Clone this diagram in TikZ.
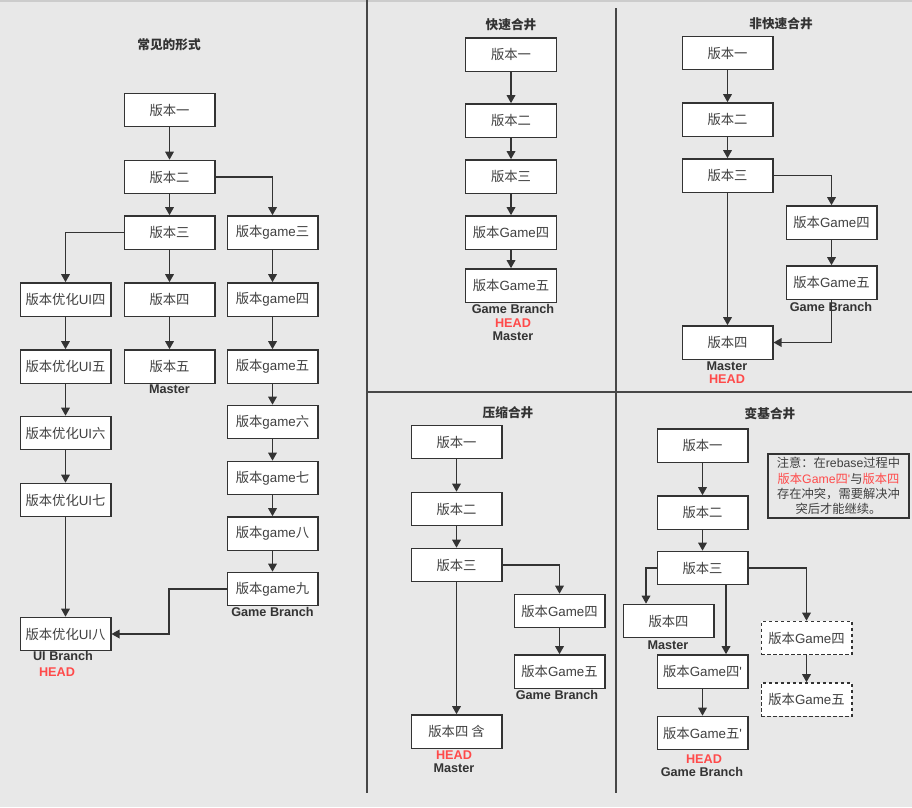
\documentclass[tikz,border=0pt]{standalone}
\usepackage{fontspec}
\setmainfont{Noto Sans CJK SC}
\newfontfamily\lat{Liberation Sans}
\usetikzlibrary{arrows.meta,calc}
\definecolor{bg}{HTML}{E8E8E8}
\definecolor{ln}{HTML}{333333}
\definecolor{tx}{HTML}{404040}
\definecolor{hd}{HTML}{FF4A4A}
\begin{document}
\begin{tikzpicture}[x=0.75pt,y=-0.75pt,
  box/.style={draw=ln, line width=1pt, fill=white, minimum width=68pt, minimum height=25pt, inner sep=0pt, font=\fontsize{10}{12}\selectfont, text=tx},
  dbox/.style={box, dash pattern=on 2.5pt off 2pt},
  arr/.style={draw=ln, line width=0.9pt, -{Triangle[width=6.5pt,length=6pt]}},
  lbl/.style={font=\lat\bfseries\fontsize{9.5}{10}\selectfont, text=ln, inner sep=0pt},
  head/.style={lbl, text=hd},
  ttl/.style={font=\bfseries\fontsize{9.5}{11}\selectfont, text=ln, inner sep=0pt},
  divider/.style={draw=ln!90, line width=1.2pt}]
\fill[bg] (0,0) rectangle (912,807);
\useasboundingbox (0,0) rectangle (912,807);
\draw[black!20, line width=0.8pt] (0,1) -- (912,1);
% dividers
\draw[divider] (367,0) -- (367,793);
\draw[divider] (616,8) -- (616,793);
\draw[divider] (367,392) -- (912,392);

% ---------------- left panel
\node[ttl] (t1) at (169,45) {常见的形式};
\node[box] (L1) at (169.5,110) {版本一};
\node[box] (L2) at (169.5,177) {版本二};
\node[box] (L3) at (169.5,232.5) {版本三};
\node[box] (Lg3) at (272.5,232.5) {版本{\lat game}三};
\node[box] (Lu4) at (65.5,299.5) {版本优化{\lat UI}四};
\node[box] (L4) at (169.5,299.5) {版本四};
\node[box] (Lg4) at (272.5,299.5) {版本{\lat game}四};
\node[box] (Lu5) at (65.5,366.5) {版本优化{\lat UI}五};
\node[box] (L5) at (169.5,366.5) {版本五};
\node[box] (Lg5) at (272.5,366.5) {版本{\lat game}五};
\node[box] (Lg6) at (272.5,422) {版本{\lat game}六};
\node[box] (Lu6) at (65.5,433) {版本优化{\lat UI}六};
\node[box] (Lg7) at (272.5,478) {版本{\lat game}七};
\node[box] (Lu7) at (65.5,500) {版本优化{\lat UI}七};
\node[box] (Lg8) at (272.5,533.5) {版本{\lat game}八};
\node[box] (Lg9) at (272.5,589) {版本{\lat game}九};
\node[box] (Lu8) at (65.5,634) {版本优化{\lat UI}八};
\node[lbl] (lm1) at (169.5,389) {Master};
\node[lbl] (lgb1) at (272.5,612) {Game Branch};
\node[lbl] (lub) at (63,656) {UI Branch};
\node[head] (lh1) at (57,672) {HEAD};
\coordinate (k1) at (169,0);
\draw[arr] (L1) -- (L2);
\draw[arr] (L2) -- (L3);
\draw[arr] (L3) -- (L4);
\draw[arr] (L4) -- (L5);
\draw[arr] (L2.east) -| (Lg3.north);
\draw[arr] (L3.west) -| (Lu4.north);
\draw[arr] (Lu4) -- (Lu5);
\draw[arr] (Lu5) -- (Lu6);
\draw[arr] (Lu6) -- (Lu7);
\draw[arr] (Lu7) -- (Lu8);
\draw[arr] (Lg3) -- (Lg4);
\draw[arr] (Lg4) -- (Lg5);
\draw[arr] (Lg5) -- (Lg6);
\draw[arr] (Lg6) -- (Lg7);
\draw[arr] (Lg7) -- (Lg8);
\draw[arr] (Lg8) -- (Lg9);
\draw[arr] (Lg9.west) -- (Lg9.west -| k1) |- (Lu8.east);

% ---------------- fast-forward
\node[ttl] (t2) at (511,25) {快速合井};
\node[box] (A1) at (511,54.5) {版本一};
\node[box] (A2) at (511,120.5) {版本二};
\node[box] (A3) at (511,176.5) {版本三};
\node[box] (A4) at (511,232.5) {版本{\lat Game}四};
\node[box] (A5) at (511,285.5) {版本{\lat Game}五};
\node[lbl] (agb) at (513,309) {Game Branch};
\node[head] (ah) at (513,323) {HEAD};
\node[lbl] (am) at (513,336) {Master};
\draw[arr] (A1) -- (A2);
\draw[arr] (A2) -- (A3);
\draw[arr] (A3) -- (A4);
\draw[arr] (A4) -- (A5);

% ---------------- non fast-forward
\node[ttl] (t3) at (781,24) {非快速合井};
\node[box] (B1) at (727.5,53) {版本一};
\node[box] (B2) at (727.5,119.5) {版本二};
\node[box] (B3) at (727.5,175.5) {版本三};
\node[box] (B4) at (831.5,222.5) {版本{\lat Game}四};
\node[box] (B5) at (831.5,282.5) {版本{\lat Game}五};
\node[box] (B6) at (727.5,342.5) {版本四};
\node[lbl] (bgb) at (831,307) {Game Branch};
\node[lbl] (bm) at (727,366) {Master};
\node[head] (bh) at (727,379) {HEAD};
\draw[arr] (B1) -- (B2);
\draw[arr] (B2) -- (B3);
\draw[arr] (B3) -- (B6);
\draw[arr] (B3.east) -| (B4.north);
\draw[arr] (B4) -- (B5);
\draw[arr] (B5.south) |- (B6.east);

% ---------------- squash
\node[ttl] (t4) at (508,413) {压缩合井};
\node[box] (C1) at (456.5,442) {版本一};
\node[box] (C2) at (456.5,509) {版本二};
\node[box] (C3) at (456.5,565) {版本三};
\node[box] (C4) at (559.5,611) {版本{\lat Game}四};
\node[box] (C5) at (559.5,671.5) {版本{\lat Game}五};
\node[box] (C6) at (456.5,731.5) {版本四 含};
\node[lbl] (cgb) at (557,695) {Game Branch};
\node[head] (ch) at (454,755) {HEAD};
\node[lbl] (cm) at (454,768) {Master};
\draw[arr] (C1) -- (C2);
\draw[arr] (C2) -- (C3);
\draw[arr] (C3) -- (C6);
\draw[arr] (C3.east) -| (C4.north);
\draw[arr] (C4) -- (C5);

% ---------------- rebase
\node[ttl] (t5) at (770,414) {变基合井};
\node[box] (D1) at (702.5,445.5) {版本一};
\node[box] (D2) at (702.5,512.5) {版本二};
\node[box] (D3) at (702.5,568) {版本三};
\node[box] (D4) at (668.5,621) {版本四};
\node[box] (D5) at (702.5,671.5) {版本{\lat Game}四{\lat '}};
\node[box] (D6) at (702.5,733) {版本{\lat Game}五{\lat '}};
\node[dbox] (E4) at (806.5,638) {版本{\lat Game}四};
\node[dbox] (E5) at (806.5,699.5) {版本{\lat Game}五};
\node[lbl] (dm) at (668,645) {Master};
\node[head] (dh) at (704,759) {HEAD};
\node[lbl] (dgb) at (702,772) {Game Branch};
\node[draw=ln, line width=1pt, fill=bg, minimum width=105.75pt, minimum height=48pt, inner sep=0pt,
      text width=104pt, align=center, font=\fontsize{9.2}{11.4}\selectfont, text=tx] (note) at (838.5,486)
  {注意：在{\lat rebase}过程中\\{\color{hd}版本{\lat Game}四{\lat '}}与{\color{hd}版本四}\\存在冲突，需要解决冲\\突后才能继续。};
\coordinate (k2) at (726,0);
\coordinate (k3) at (646,0);
\draw[arr] (D1) -- (D2);
\draw[arr] (D2) -- (D3);
\draw[arr] (D3.west) -| (D4.north -| k3);
\draw[arr] (D3.south -| k2) -- (D5.north -| k2);
\draw[arr] (D3.east) -| (E4.north);
\draw[arr] (D5) -- (D6);
\draw[arr] (E4) -- (E5);
\end{tikzpicture}
\end{document}
